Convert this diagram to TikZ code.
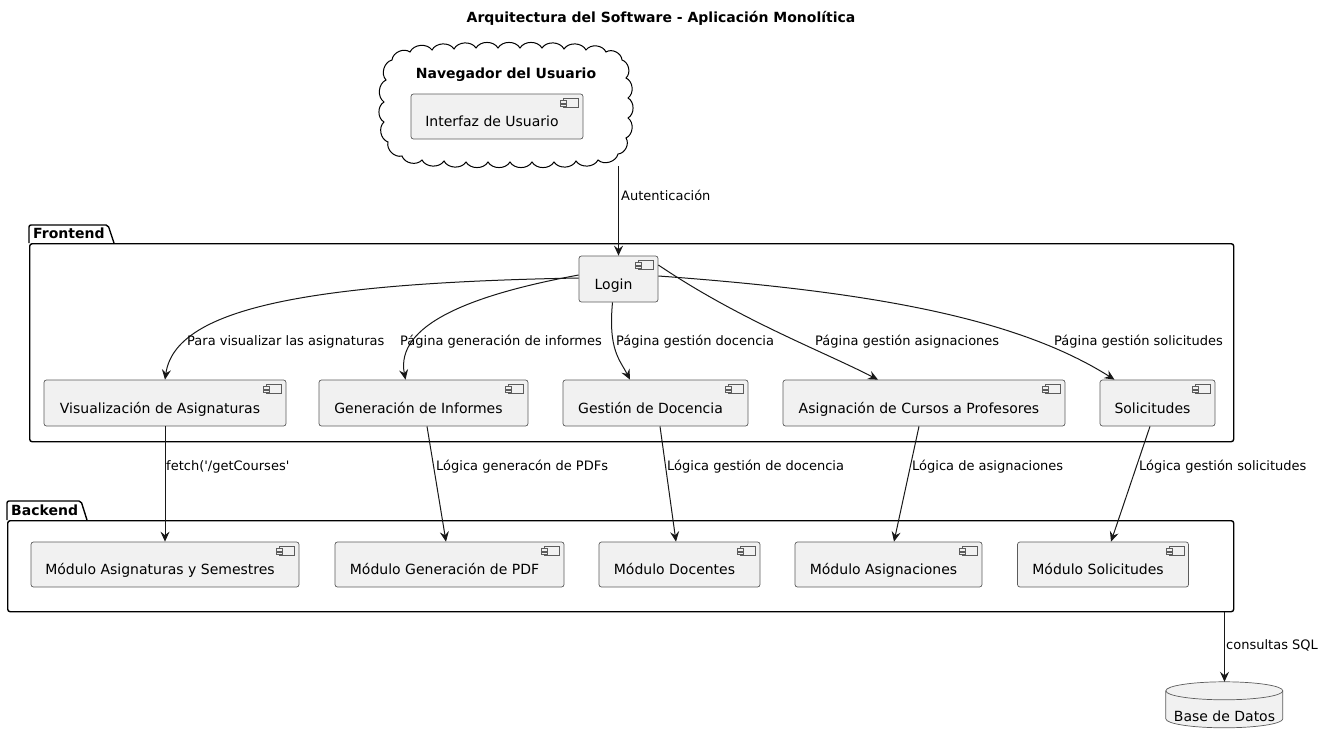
\documentclass[tikz,border=0pt]{standalone}
\usepackage{fontspec}
\setmainfont{DejaVu Sans}
\usetikzlibrary{arrows.meta}
\definecolor{cfill}{HTML}{F1F1F1}
\definecolor{cline}{HTML}{181818}
\definecolor{cbord}{HTML}{5C5C5C}
\tikzset{
  comp/.style={draw=cbord, line width=0.7pt, fill=cfill, rounded corners=2.5pt,
    inner sep=0pt, minimum height=46pt, text height=20pt, text depth=0pt,
    font=\fontsize{14}{16}\selectfont, execute at begin node={\hspace*{-10pt}}},
  pkgbox/.style={draw=black, line width=1.4pt, rounded corners=2.5pt, inner sep=0pt},
  pkgtab/.style={draw=black, line width=1.4pt, rounded corners=2pt},
  pkglabel/.style={font=\bfseries\fontsize{14}{16}\selectfont, inner sep=0pt, anchor=base west},
  lbl/.style={font=\fontsize{13}{15}\selectfont, inner sep=0pt, anchor=base west},
  arr/.style={draw=cline, line width=1pt, -{Stealth[length=10pt,width=9pt,inset=3.5pt]}},
  icon/.style={draw=cbord, line width=0.6pt, fill=cfill}
}
\newcommand\compicon[1]{%
  \draw[icon] ([xshift=-20pt,yshift=-5pt]#1.north east) rectangle ([xshift=-5pt,yshift=-14pt]#1.north east);
  \draw[icon] ([xshift=-23pt,yshift=-7pt]#1.north east) rectangle ([xshift=-17pt,yshift=-9.5pt]#1.north east);
  \draw[icon] ([xshift=-23pt,yshift=-10.5pt]#1.north east) rectangle ([xshift=-17pt,yshift=-13pt]#1.north east);
}
\begin{document}
\begin{tikzpicture}[x=1pt,y=-1pt]
\useasboundingbox[fill=white] (0,0) rectangle (1323,744);

% title
\node[font=\bfseries\fontsize{14}{16}\selectfont, inner sep=0pt, anchor=base] (title) at (661,23)
  {Arquitectura del Software - Aplicación Monolítica};

% cloud
\draw[draw=black, line width=1pt, fill=white]
  (392,60) to[bend left=60] (410,52) to[bend left=60] (432,50) to[bend left=60] (454,49)
  to[bend left=60] (476,48) to[bend left=60] (498,48) to[bend left=60] (520,48)
  to[bend left=60] (542,48) to[bend left=60] (564,49) to[bend left=60] (586,50)
  to[bend left=60] (606,52) to[bend left=60] (622,60)
  to[bend left=60] (626,78) to[bend left=60] (628,98) to[bend left=60] (628,118)
  to[bend left=60] (626,138) to[bend left=60] (618,154)
  to[bend left=60] (598,160) to[bend left=60] (576,161) to[bend left=60] (554,162)
  to[bend left=60] (532,162) to[bend left=60] (510,162) to[bend left=60] (488,162)
  to[bend left=60] (466,162) to[bend left=60] (444,161) to[bend left=60] (422,160)
  to[bend left=60] (402,156)
  to[bend left=60] (388,142) to[bend left=60] (384,122) to[bend left=60] (384,102)
  to[bend left=60] (386,80) to[bend left=60] (392,60) -- cycle;
\node[inner sep=0pt, minimum width=254pt, minimum height=122pt] (nav) at (505,105) {};
\node[pkglabel, anchor=base] (navlbl) at (506,78) {Navegador del Usuario};
\node[comp, minimum width=172pt, minimum height=45pt] (iu) at (497,116.5) {Interfaz de Usuario};
\compicon{iu}

% Frontend package
\node[pkgbox, minimum width=1204pt, minimum height=198pt, anchor=north west] (front) at (29,243) {};
\draw[pkgtab] (front.north west) |- ++(79,-18) -- ++(6,18);
\node[pkglabel] (frontlbl) at (33,238) {Frontend};

\node[comp, minimum width=79pt] (login) at (618.5,279) {Login};
\compicon{login}
\node[comp, minimum width=242pt] (vis) at (165,403) {Visualización de Asignaturas};
\node[comp, minimum width=209pt] (gen) at (423.5,403) {Generación de Informes};
\node[comp, minimum width=185pt] (ges) at (655.5,403) {Gestión de Docencia};
\node[comp, minimum width=282pt] (asg) at (924,403) {Asignación de Cursos a Profesores};
\node[comp, minimum width=115pt] (sol) at (1157.5,403) {Solicitudes};
\foreach \n in {vis,gen,ges,asg,sol} {\compicon{\n}}

% Backend package
\node[pkgbox, minimum width=1226pt, minimum height=91pt, anchor=north west] (back) at (7,520) {};
\draw[pkgtab] (back.north west) |- ++(74,-19) -- ++(6,19);
\node[pkglabel] (backlbl) at (11,515) {Backend};

\node[comp, minimum width=268pt, minimum height=45pt] (m1) at (165,564.5) {Módulo Asignaturas y Semestres};
\node[comp, minimum width=229pt, minimum height=45pt] (m2) at (449.5,564.5) {Módulo Generación de PDF};
\node[comp, minimum width=161pt, minimum height=45pt] (m3) at (679.5,564.5) {Módulo Docentes};
\node[comp, minimum width=187pt, minimum height=45pt] (m4) at (888.5,564.5) {Módulo Asignaciones};
\node[comp, minimum width=171pt, minimum height=45pt] (m5) at (1103,564.5) {Módulo Solicitudes};
\foreach \n in {m1,m2,m3,m4,m5} {\compicon{\n}}

% database
\node[inner sep=0pt, minimum width=117pt, minimum height=46pt] (db) at (1224.5,705) {};
\draw[draw=cbord, line width=0.7pt, fill=cfill]
  (db.north west) ++(0,9) arc[start angle=180, end angle=0, x radius=58.5pt, y radius=9pt]
  -- ++(0,28) arc[start angle=0, end angle=-180, x radius=58.5pt, y radius=9pt] -- cycle;
\draw[draw=cbord, line width=0.7pt]
  (db.north west) ++(0,9) arc[start angle=180, end angle=360, x radius=58.5pt, y radius=9pt];
\node[inner sep=0pt, anchor=base, font=\fontsize{14}{16}\selectfont] (dblbl) at (1224.5,721) {Base de Datos};

% connectors
\draw[arr] (nav.south -| login.north) -- (login.north);
\node[lbl] at (621,200) {Autenticación};

\draw[arr] ([yshift=1pt]login.west) .. controls (300,283) and (175,310) .. (vis.north);
\draw[arr] ([yshift=4pt]login.west) .. controls (470,295) and (395,325) .. ([xshift=-18pt]gen.north);
\draw[arr] ([xshift=-6pt]login.south) .. controls (608,350) and (620,360) .. ([xshift=-25.5pt]ges.north);
\draw[arr] ([yshift=14pt]login.east) .. controls (740,320) and (820,350) .. ([xshift=-46pt]asg.north);
\draw[arr] ([yshift=3pt]login.east) .. controls (880,292) and (1020,320) .. ([xshift=-43pt]sol.north);
\node[lbl] at (187,345) {Para visualizar las asignaturas};
\node[lbl] at (400,345) {Página generación de informes};
\node[lbl] at (616,345) {Página gestión docencia};
\node[lbl] at (815,345) {Página gestión asignaciones};
\node[lbl] at (1054,345) {Página gestión solicitudes};

\draw[arr] (vis.south) -- (m1.north);
\draw[arr] ([xshift=3.5pt]gen.south) -- ([xshift=-3.5pt]m2.north);
\draw[arr] ([xshift=4.5pt]ges.south) -- ([xshift=-3.5pt]m3.north);
\draw[arr] ([xshift=-5pt]asg.south) -- ([xshift=5.5pt]m4.north);
\draw[arr] ([xshift=-7.5pt]sol.south) -- ([xshift=8pt]m5.north);
\node[lbl] at (166,470) {fetch(\textquotesingle/getCourses\textquotesingle};
\node[lbl] at (436,470) {Lógica generacón de PDFs};
\node[lbl] at (667,470) {Lógica gestión de docencia};
\node[lbl] at (912,470) {Lógica de asignaciones};
\node[lbl] at (1139,470) {Lógica gestión solicitudes};

\draw[arr] (back.south -| db.north) -- (db.north);
\node[lbl] at (1226,649) {consultas SQL};
\end{tikzpicture}
\end{document}
